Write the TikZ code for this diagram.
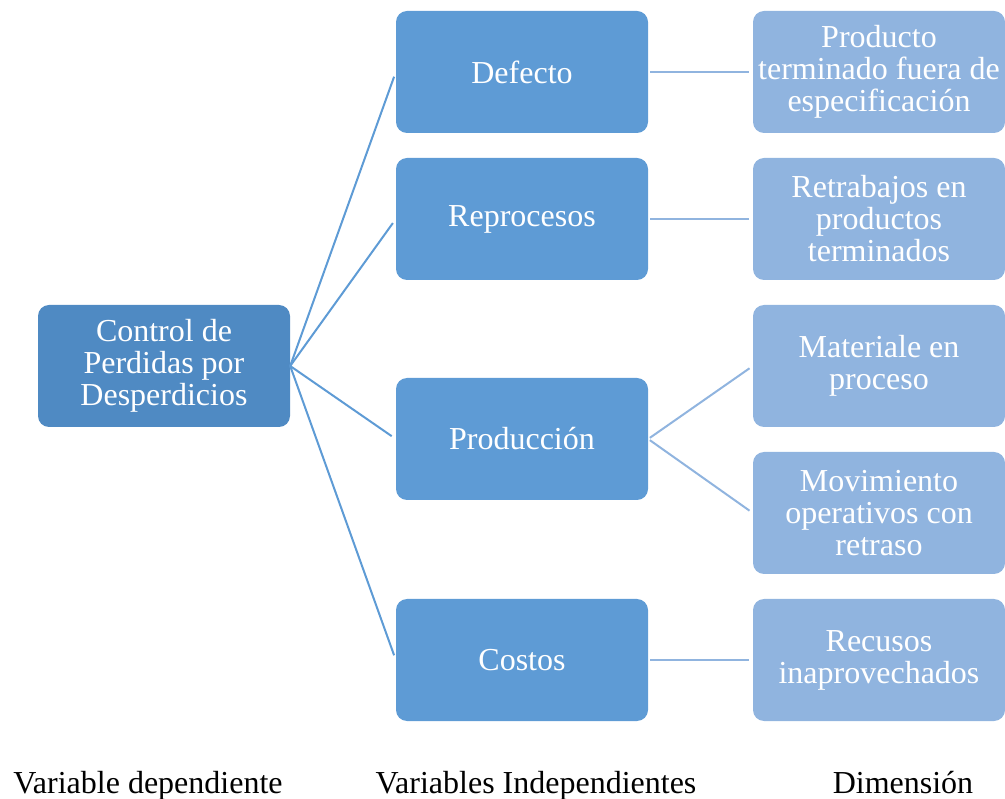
\documentclass[tikz,border=0pt]{standalone}
\usepackage{fontspec}
\setmainfont{Liberation Serif}
\definecolor{rootfill}{HTML}{4F8AC3}
\definecolor{midfill}{HTML}{5E9BD5}
\definecolor{dimfill}{HTML}{90B4DF}
\definecolor{midline}{HTML}{5E9BD5}
\definecolor{dimline}{HTML}{90B4DF}
\begin{document}
\begin{tikzpicture}[x=1pt,y=-1pt,
  box/.style={rounded corners=11pt, minimum width=252pt, minimum height=122pt,
    inner sep=0pt, align=center, text=white, font=\fontsize{32}{32}\selectfont},
  rootbox/.style={box, fill=rootfill},
  midbox/.style={box, fill=midfill},
  dimbox/.style={box, fill=dimfill},
  midlink/.style={draw=midline, line width=2pt, shorten >=5pt},
  dimlink/.style={draw=dimline, line width=2pt, shorten >=4pt, shorten <=2pt},
  caption/.style={font=\fontsize{32}{32}\selectfont, anchor=base}
]
\useasboundingbox (0,0) rectangle (1005,799);

% dependent variable
\node[rootbox] (root) at (164,366) {Control de\\Perdidas por\\Desperdicios};

% independent variables
\node[midbox] (def)  at (522,72)  {Defecto};
\node[midbox] (rep)  at (522,219) {Reprocesos};
\node[midbox] (prod) at (522,439) {Producción};
\node[midbox] (cost) at (522,660) {Costos};

% dimensions
\node[dimbox] (d1) at (879,72)  {Producto\\terminado fuera de\\especificación};
\node[dimbox] (d2) at (879,219) {Retrabajos en\\productos\\terminados};
\node[dimbox] (d3) at (879,366) {Materiale en\\proceso};
\node[dimbox] (d4) at (879,513) {Movimiento\\operativos con\\retraso};
\node[dimbox] (d5) at (879,660) {Recusos\\inaprovechados};

% connectors
\foreach \t in {def,rep,prod,cost}
  \draw[midlink] (root.east) -- (\t.west);
\draw[dimlink] (def.east) -- (d1.west);
\draw[dimlink] (rep.east) -- (d2.west);
\draw[dimlink] (prod.east) -- (d3.west);
\draw[dimlink] (prod.east) -- (d4.west);
\draw[dimlink] (cost.east) -- (d5.west);

% column captions
\node[caption] (c1) at (148,793) {Variable dependiente};
\node[caption] (c2) at (536,793) {Variables Independientes};
\node[caption] (c3) at (903,793) {Dimensión};
\end{tikzpicture}
\end{document}
